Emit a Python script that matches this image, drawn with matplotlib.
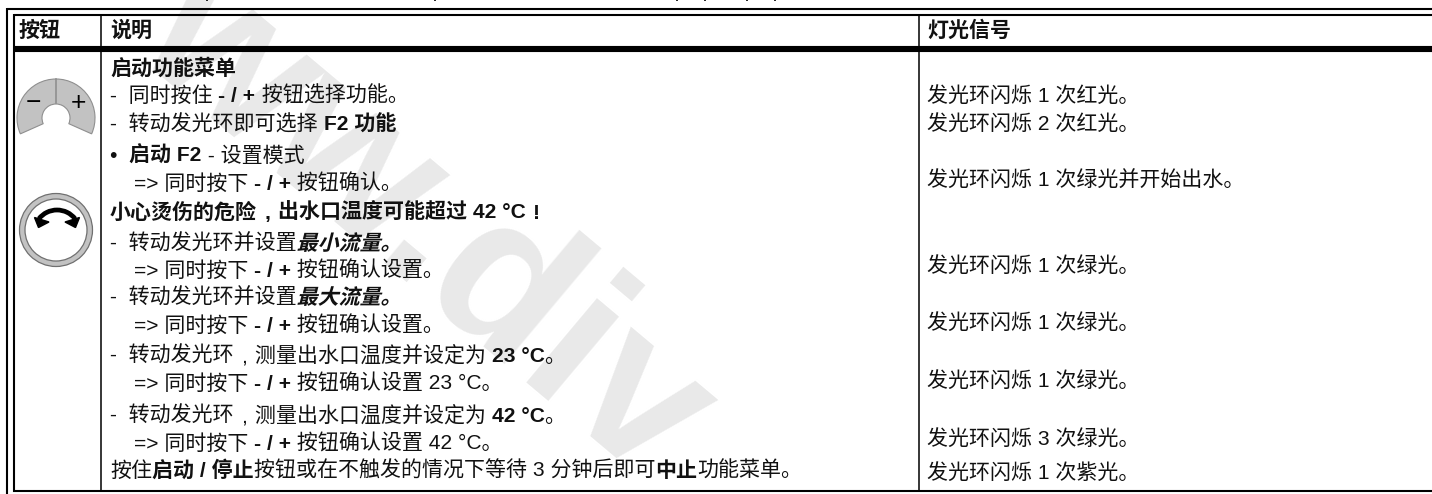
import re

import matplotlib
matplotlib.use('Agg')
import matplotlib.pyplot as plt
import matplotlib.patheffects as pe
from matplotlib.patches import Wedge, Circle, Arc, Polygon
from matplotlib.transforms import Affine2D

plt.rcParams['font.family'] = ['Liberation Sans', 'Noto Sans CJK SC']

# ** toggles bold, ## toggles the slanted bold
headers = ['按钮', '说明', '灯光信号']
desc_lines = [
    '**启动功能菜单**',
    '-  同时按住 **- / +** 按钮选择功能。',
    '-  转动发光环即可选择 **F2 功能**',
    '•  **启动 F2** - 设置模式',
    '=> 同时按下 **- / +** 按钮确认。',
    '**小心烫伤的危险，出水口温度可能超过 42 °C！**',
    '-  转动发光环并设置##最小流量。##',
    '=> 同时按下 **- / +** 按钮确认设置。',
    '-  转动发光环并设置##最大流量。##',
    '=> 同时按下 **- / +** 按钮确认设置。',
    '-  转动发光环，测量出水口温度并设定为 **23 °C**。',
    '=> 同时按下 **- / +** 按钮确认设置 23 °C。',
    '-  转动发光环，测量出水口温度并设定为 **42 °C**。',
    '=> 同时按下 **- / +** 按钮确认设置 42 °C。',
    '按住**启动 / 停止**按钮或在不触发的情况下等待 3 分钟后即可**中止**功能菜单。',
]
desc_y = [68, 95, 124, 155, 183, 212, 243, 270, 297, 325, 355, 383, 415, 443, 470]
signal_lines = [
    '发光环闪烁 1 次红光。',
    '发光环闪烁 2 次红光。',
    '发光环闪烁 1 次绿光并开始出水。',
    '发光环闪烁 1 次绿光。',
    '发光环闪烁 1 次绿光。',
    '发光环闪烁 1 次绿光。',
    '发光环闪烁 3 次绿光。',
    '发光环闪烁 1 次紫光。',
]
signal_y = [95, 123, 180, 265, 322, 380, 438, 472]
watermark = 'ww.div'

FS = 15.1
BASE = 7
CELL = 21


class Slant(pe.AbstractPathEffect):
    def draw_path(self, renderer, gc, tpath, affine, rgbFace=None):
        renderer.draw_path(gc, tpath, Affine2D().skew_deg(14, 0) + affine, rgbFace)


def split_runs(line):
    # walk the string and cut it at the markers
    runs = []
    style = 'r'
    buf = ''
    i = 0
    while i < len(line):
        tag = line[i:i + 2]
        if tag == '**' or tag == '##':
            if buf:
                runs.append((buf, style))
            buf = ''
            new = 'b' if tag == '**' else 'i'
            style = 'r' if style == new else new
            i += 2
        else:
            buf += line[i]
            i += 1
    if buf:
        runs.append((buf, style))
    return runs


def text_width(ax, renderer, s, weight):
    # measure with a guard letter on both sides, edge spaces do not count otherwise
    t = ax.text(0, 0, 'n' + s + 'n', fontsize=FS, fontweight=weight)
    w = t.get_window_extent(renderer).width
    t.set_text('nn')
    w -= t.get_window_extent(renderer).width
    t.remove()
    return w


def draw_line(ax, renderer, x, y, line):
    for part, style in split_runs(line):
        weight = 'normal' if style == 'r' else 'bold'
        for piece in re.split('([，！])', part):
            if not piece:
                continue
            if piece in '，！':
                # the source sets these in the middle of the cell
                ax.text(x + CELL / 2, y + BASE, ',' if piece == '，' else '!', fontsize=FS, ha='center',
                        va='baseline', fontweight=weight, color='#111111', zorder=5)
                x += CELL
                continue
            t = ax.text(x, y + BASE, piece, fontsize=FS, va='baseline', ha='left', color='#111111',
                        fontweight=weight, zorder=5)
            if style == 'i':
                t.set_path_effects([Slant()])
            x += text_width(ax, renderer, piece, weight)


fig = plt.figure(figsize=(14.32, 4.94), dpi=100)
ax = fig.add_axes([0, 0, 1, 1])
ax.set_xlim(0, 1432)
ax.set_ylim(494, 0)
ax.axis('off')
renderer = fig.canvas.get_renderer()

# watermark
ax.text(131, 50, watermark, fontsize=150, rotation=-40, rotation_mode='anchor', ha='left', va='baseline',
        color='#e9e9e9', fontweight='bold', family='Liberation Sans', zorder=0, clip_on=True)

# scraps of the cropped title above the table
for xp in [207, 435, 677, 705, 747, 775]:
    ax.plot([xp, xp], [0, 1.5], color='black', lw=1.2, solid_capstyle='butt', zorder=3)

# table rules
ax.plot([6.5, 1432], [9, 9], color='black', lw=1.5, solid_capstyle='butt', zorder=3)
ax.plot([6.5, 6.5], [8.2, 494], color='black', lw=1.5, solid_capstyle='butt', zorder=3)
ax.plot([14, 1432], [15, 15], color='black', lw=1.5, solid_capstyle='butt', zorder=3)
ax.plot([14, 14], [14.2, 491.5], color='black', lw=1.5, solid_capstyle='butt', zorder=3)
ax.plot([13, 1432], [49, 49], color='black', lw=4.4, solid_capstyle='butt', zorder=3)
ax.plot([13, 1432], [491, 491], color='black', lw=1.5, solid_capstyle='butt', zorder=3)
for xc in [100.5, 918.5]:
    ax.plot([xc, xc], [15, 491], color='black', lw=1.1, solid_capstyle='butt', zorder=3)

for xh, h in zip([19, 110, 927], headers):
    ax.text(xh, 30 + BASE, h, fontsize=FS, fontweight='bold', va='baseline', ha='left', color='#111111', zorder=5)

for y, line in zip(desc_y, desc_lines):
    draw_line(ax, renderer, 134 if line.startswith('=>') else 110, y, line)
for y, line in zip(signal_y, signal_lines):
    ax.text(927, y + BASE, line, fontsize=FS, va='baseline', ha='left', color='#111111', zorder=5)

# button icon
ax.add_patch(Wedge((56, 118), 39, 156, 384, width=25, facecolor='#c2c2c2', edgecolor='#8f8f8f', lw=0.8, zorder=2))
ax.plot([56, 56], [79, 103], color='#8f8f8f', lw=1.2, zorder=3)
ax.text(33.5, 103, '−', fontsize=19, ha='center', va='center', color='black', zorder=4)
ax.text(78, 103, '+', fontsize=19, ha='center', va='center', color='black', zorder=4)

# ring icon
ax.add_patch(Circle((56, 230), 36.5, facecolor='#c2c2c2', edgecolor='#707070', lw=0.9, zorder=2))
ax.add_patch(Circle((56, 230), 31, facecolor='white', edgecolor='#707070', lw=0.9, zorder=2))
ax.add_patch(Arc((57, 233), 46, 46, theta1=218, theta2=322, color='black', lw=3.4, zorder=4))
ax.add_patch(Polygon([(34.5, 217.5), (49, 222), (38.5, 227.5)], closed=True, color='black', zorder=4))
ax.add_patch(Polygon([(79.5, 217.5), (65, 222), (75.5, 227.5)], closed=True, color='black', zorder=4))

fig.savefig('out.png', dpi=100)
